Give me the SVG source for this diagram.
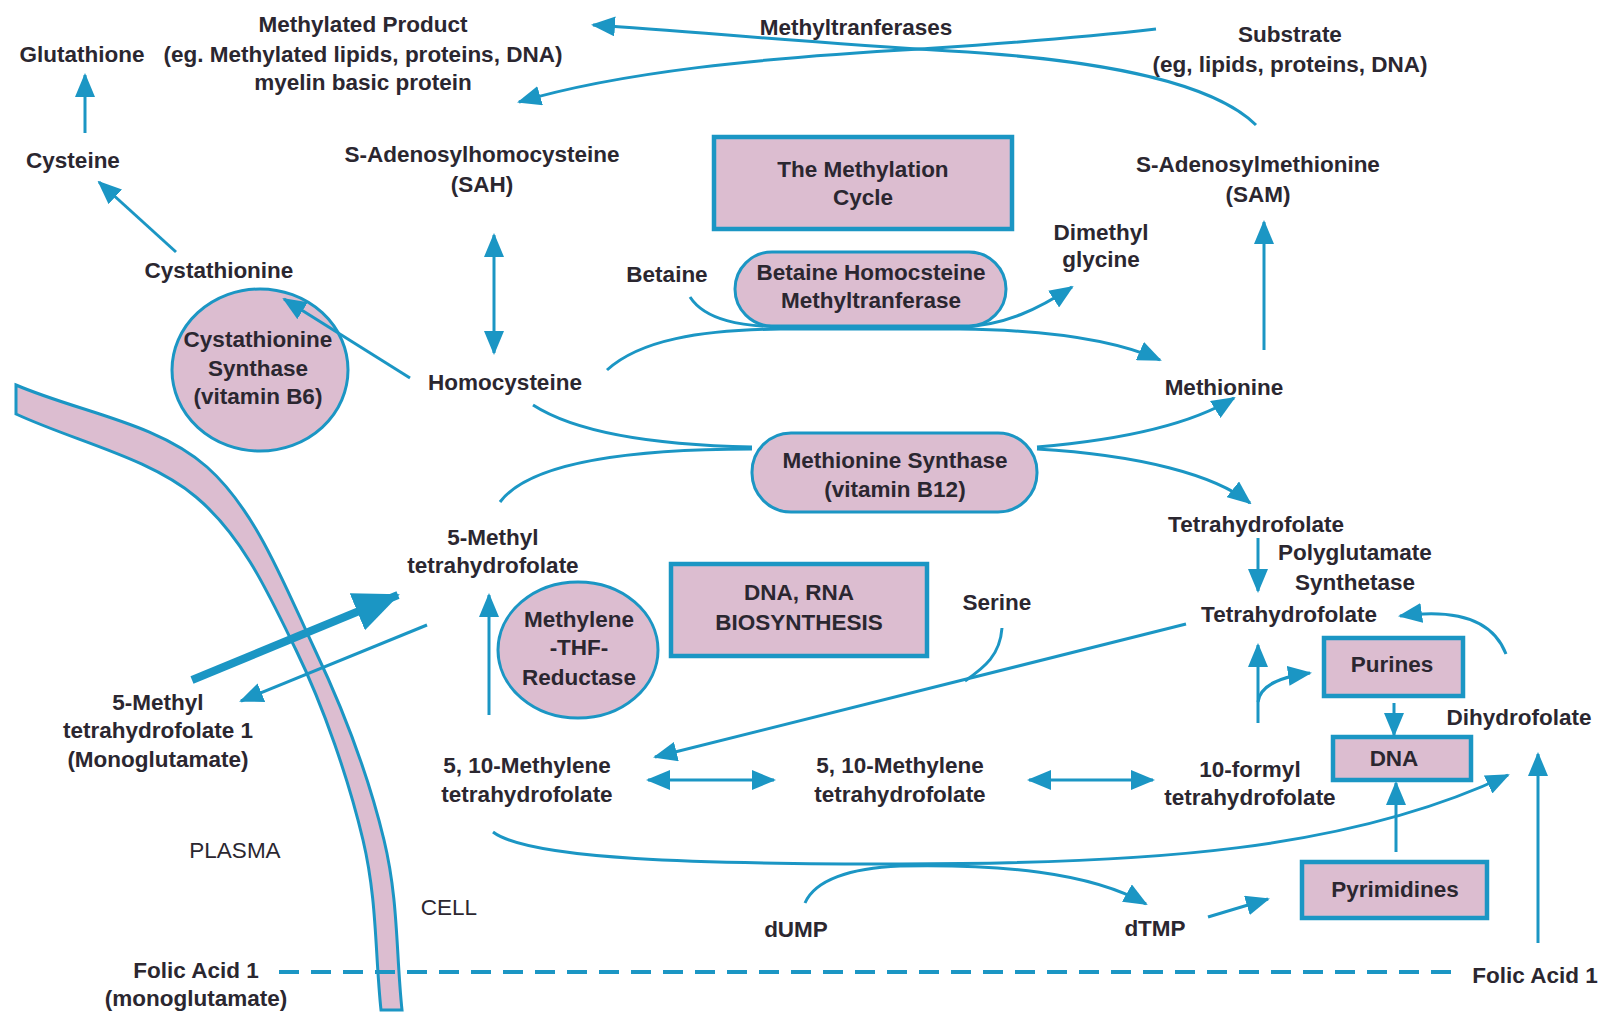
<svg xmlns="http://www.w3.org/2000/svg" width="1610" height="1016" viewBox="0 0 1610 1016">
<style>
.t{font-family:"Liberation Sans",Arial,sans-serif;font-weight:bold;font-size:22.5px;fill:#2b2730;text-anchor:middle}
.n{font-weight:normal}
.c{fill:none;stroke:#1b96c4;stroke-width:3}
.a{marker-end:url(#ah)}
.d{marker-start:url(#ah);marker-end:url(#ah)}
.box{fill:#dcbdd0;stroke:#1b96c4;stroke-width:4.5}
.pill{fill:#dcbdd0;stroke:#1b96c4;stroke-width:3}
</style>
<defs>
<marker id="ah" markerUnits="userSpaceOnUse" markerWidth="24" markerHeight="20" viewBox="0 0 24 20" refX="22" refY="10" orient="auto-start-reverse"><path d="M0,0 L24,10 L0,20 z" fill="#1b96c4"/></marker>
<marker id="big" markerUnits="userSpaceOnUse" markerWidth="46" markerHeight="40" viewBox="0 0 46 40" refX="44" refY="20" orient="auto"><path d="M0,0 L46,20 L0,40 z" fill="#1b96c4"/></marker>
</defs>
<rect width="1610" height="1016" fill="#fff"/>

<g id="membrane">
<path d="M16,385 C79.7,412.3 157.2,422.8 207,467 C256.8,511.2 285.5,587.8 315,650 C344.5,712.2 369.5,780 384,840 C398.5,900 396,953.3 402,1010 L381,1010 C375,953.3 377.2,900 363,840 C348.8,780 323.8,707.2 296,650 C268.2,592.8 242.7,536.3 196,497 C149.3,457.7 76,441.7 16,414 Z" fill="#dcbdd0" stroke="#1b96c4" stroke-width="3"/>
</g>

<g id="nodes">
<g id="glutathione"><text class="t" x="82" y="62">Glutathione</text></g>
<g id="methylated-product"><text class="t" x="363" y="32">Methylated Product</text><text class="t" x="363" y="62">(eg. Methylated lipids, proteins, DNA)</text><text class="t" x="363" y="90">myelin basic protein</text></g>
<g id="methyltransferases"><text class="t" x="856" y="35">Methyltranferases</text></g>
<g id="substrate"><text class="t" x="1290" y="42">Substrate</text><text class="t" x="1290" y="72">(eg, lipids, proteins, DNA)</text></g>
<g id="cysteine"><text class="t" x="73" y="168">Cysteine</text></g>
<g id="sah"><text class="t" x="482" y="162">S-Adenosylhomocysteine</text><text class="t" x="482" y="192">(SAH)</text></g>
<g id="methylation-cycle"><rect class="box" x="714" y="137" width="298" height="92"/><text class="t" x="863" y="177">The Methylation</text><text class="t" x="863" y="205">Cycle</text></g>
<g id="sam"><text class="t" x="1258" y="172">S-Adenosylmethionine</text><text class="t" x="1258" y="202">(SAM)</text></g>
<g id="cystathionine"><text class="t" x="219" y="278">Cystathionine</text></g>
<g id="betaine"><text class="t" x="667" y="282">Betaine</text></g>
<g id="bhmt"><rect class="pill" x="735" y="252" width="271" height="74" rx="37"/><text class="t" x="871" y="280">Betaine Homocsteine</text><text class="t" x="871" y="308">Methyltranferase</text></g>
<g id="dimethylglycine"><text class="t" x="1101" y="240">Dimethyl</text><text class="t" x="1101" y="267">glycine</text></g>
<g id="cbs"><ellipse class="pill" cx="260" cy="370" rx="88" ry="81"/><text class="t" x="258" y="347">Cystathionine</text><text class="t" x="258" y="376">Synthase</text><text class="t" x="258" y="404">(vitamin B6)</text></g>
<g id="homocysteine"><text class="t" x="505" y="390">Homocysteine</text></g>
<g id="methionine"><text class="t" x="1224" y="395">Methionine</text></g>
<g id="methionine-synthase"><rect class="pill" x="752" y="433" width="285" height="79" rx="39"/><text class="t" x="895" y="468">Methionine Synthase</text><text class="t" x="895" y="497">(vitamin B12)</text></g>
<g id="methyl-thf"><text class="t" x="493" y="545">5-Methyl</text><text class="t" x="493" y="573">tetrahydrofolate</text></g>
<g id="thf1"><text class="t" x="1256" y="532">Tetrahydrofolate</text></g>
<g id="polyglutamate"><text class="t" x="1355" y="560">Polyglutamate</text><text class="t" x="1355" y="590">Synthetase</text></g>
<g id="thf2"><text class="t" x="1289" y="622">Tetrahydrofolate</text></g>
<g id="mthfr"><ellipse class="pill" cx="578" cy="650" rx="80" ry="68"/><text class="t" x="579" y="627">Methylene</text><text class="t" x="579" y="655">-THF-</text><text class="t" x="579" y="685">Reductase</text></g>
<g id="dna-rna"><rect class="box" x="671" y="564" width="256" height="92"/><text class="t" x="799" y="600">DNA, RNA</text><text class="t" x="799" y="630">BIOSYNTHESIS</text></g>
<g id="serine"><text class="t" x="997" y="610">Serine</text></g>
<g id="purines"><rect class="box" x="1324" y="638" width="139" height="58"/><text class="t" x="1392" y="672">Purines</text></g>
<g id="methyl-thf-plasma"><text class="t" x="158" y="710">5-Methyl</text><text class="t" x="158" y="738">tetrahydrofolate 1</text><text class="t" x="158" y="767">(Monoglutamate)</text></g>
<g id="dihydrofolate"><text class="t" x="1519" y="725">Dihydrofolate</text></g>
<g id="dna"><rect class="box" x="1333" y="737" width="138" height="43"/><text class="t" x="1394" y="766">DNA</text></g>
<g id="methylene-thf-1"><text class="t" x="527" y="773">5, 10-Methylene</text><text class="t" x="527" y="802">tetrahydrofolate</text></g>
<g id="methylene-thf-2"><text class="t" x="900" y="773">5, 10-Methylene</text><text class="t" x="900" y="802">tetrahydrofolate</text></g>
<g id="formyl-thf"><text class="t" x="1250" y="777">10-formyl</text><text class="t" x="1250" y="805">tetrahydrofolate</text></g>
<g id="plasma"><text class="t n" x="235" y="858">PLASMA</text></g>
<g id="cell"><text class="t n" x="449" y="915">CELL</text></g>
<g id="pyrimidines"><rect class="box" x="1302" y="862" width="185" height="56"/><text class="t" x="1395" y="897">Pyrimidines</text></g>
<g id="dump"><text class="t" x="796" y="937">dUMP</text></g>
<g id="dtmp"><text class="t" x="1155" y="936">dTMP</text></g>
<g id="folic-left"><text class="t" x="196" y="978">Folic Acid 1</text><text class="t" x="196" y="1006">(monoglutamate)</text></g>
<g id="folic-right"><text class="t" x="1535" y="983">Folic Acid 1</text></g>
</g>

<g id="connectors">
<path class="c a" d="M85,133 V75"/>
<path class="c a" d="M176,252 L99,182"/>
<path class="c a" d="M410,378 L284,299"/>
<path class="c d" d="M494,235 V353"/>
<path class="c a" d="M1256,125 C1215,85 1110,60 950,51 C800,42 700,32 593,25"/>
<path class="c a" d="M1156,29 C1060,40 980,45 920,49 C760,58 620,72 519,102"/>
<path class="c a" d="M690,297 C705,320 740,327 790,327 L960,327 C1005,326 1040,308 1072,287"/>
<path class="c a" d="M607,370 C640,340 700,330 780,329 L960,329 C1050,330 1115,340 1160,360"/>
<path class="c" d="M533,405 C575,432 650,445 752,447"/>
<path class="c a" d="M1037,447 C1120,440 1190,425 1234,398"/>
<path class="c" d="M500,502 C530,462 630,449 752,449"/>
<path class="c a" d="M1037,449 C1140,455 1215,475 1250,503"/>
<path class="c a" d="M1264,350 V222"/>
<path class="c a" d="M1258,538 V591"/>
<path class="c a" d="M1506,654 C1495,625 1465,607 1400,616"/>
<path class="c a" d="M1258,723 V645"/>
<path class="c a" d="M1258,702 C1260,685 1280,677 1310,673"/>
<path class="c a" d="M1394,703 V735"/>
<path class="c a" d="M1396,852 V783"/>
<path class="c a" d="M1208,917 L1268,899"/>
<path class="c a" d="M1538,943 V754"/>
<path class="c a" d="M493,832 C530,860 700,864 900,864 C1150,864 1350,850 1508,775"/>
<path class="c a" d="M805,903 C815,880 850,868 900,866 C1000,864 1090,872 1146,904"/>
<path class="c a" d="M1186,624 L655,757"/>
<path class="c" d="M1002,628 C1000,655 985,667 965,681"/>
<path class="c d" d="M648,780 H774"/>
<path class="c d" d="M1029,780 H1153"/>
<path class="c a" d="M489,715 V595"/>
<path fill="none" stroke="#1b96c4" stroke-width="8" marker-end="url(#big)" d="M192,680 L398,595"/>
<path class="c a" d="M427,625 L241,701"/>
<path fill="none" stroke="#1b96c4" stroke-width="4" stroke-dasharray="20 12" d="M279,972 H1462"/>
</g>
</svg>
